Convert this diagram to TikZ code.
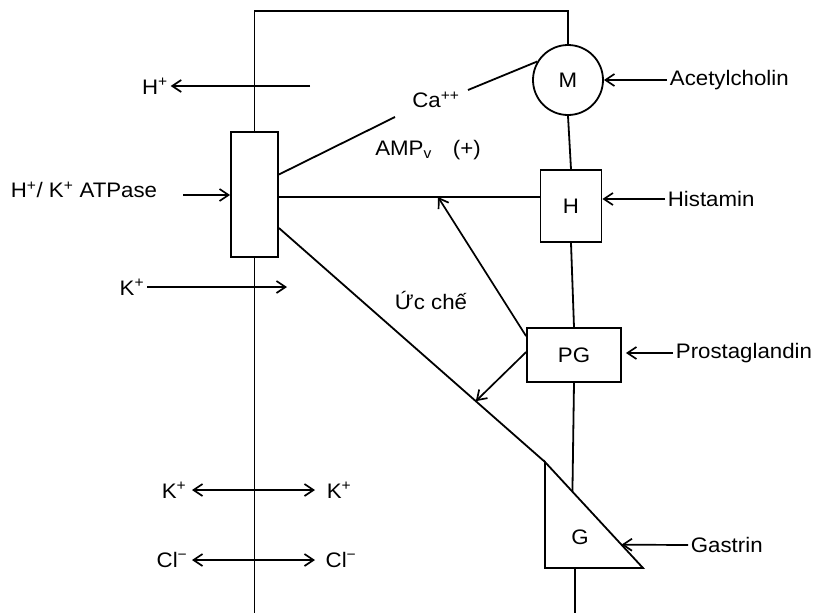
\documentclass[tikz,border=0pt]{standalone}
\usepackage{fontspec}
\setmainfont{Liberation Sans}[FakeStretch=1.06]
\usetikzlibrary{arrows.meta,calc}
\begin{document}
\begin{tikzpicture}[x=1pt,y=-1pt, line width=1.8pt,
  lbl/.style={font=\fontsize{21}{25}\selectfont, inner sep=2pt},
  box/.style={draw, rectangle, inner sep=0pt},
  arr/.style={line width=1.7pt, -{Straight Barb[length=9pt,width=12pt]}},
  darr/.style={line width=1.7pt, {Straight Barb[length=9pt,width=12pt]}-{Straight Barb[length=9pt,width=12pt]}}
]
\useasboundingbox (0,0) rectangle (815,613);

% shapes
\node[box, minimum width=47pt, minimum height=125pt] (ATP) at (254.5,194.5) {};
\node[lbl, draw, circle, inner sep=0pt, minimum size=70pt] (M) at (568,80) {M};
\node[lbl, box, minimum width=61pt, minimum height=72pt] (H) at (571,206) {H};
\node[lbl, box, minimum width=94pt, minimum height=54pt] (PG) at (574,355) {PG};
\coordinate (Gtl) at (545,462);
\coordinate (Gbl) at (545,568);
\coordinate (Gbr) at (643,568);
\draw (Gtl) -- (Gbl) -- (Gbr) -- cycle;
\node[lbl] (G) at (580,537) {G};

% labels
\node[lbl, anchor=west] (acet) at (667,80) {Acetylcholin};
\node[lbl, anchor=west] (hist) at (665,199) {Histamin};
\node[lbl, anchor=west] (pros) at (673,353) {Prostaglandin};
\node[lbl, anchor=west] (gas) at (688,545) {Gastrin};
\node[lbl] (hplus) at (155,86) {H\textsuperscript{+}};
\node[lbl, anchor=east] (atpl) at (160,190) {H\textsuperscript{+}/ K\textsuperscript{+} ATPase};
\node[lbl, anchor=east] (kin) at (147,287) {K\textsuperscript{+}};
\node[lbl] (ca) at (436,100) {Ca\textsuperscript{++}};
\node[lbl] (amp) at (428,150) {AMP\textsubscript{v}\quad(+)};
\node[lbl] (uc) at (431,300) {Ức chế};
\node[lbl] (kl) at (174,490) {K\textsuperscript{+}};
\node[lbl] (kr) at (339,490) {K\textsuperscript{+}};
\node[lbl] (cll) at (172,560) {Cl\textsuperscript{−}};
\node[lbl] (clr) at (341,560) {Cl\textsuperscript{−}};

% coordinates
\coordinate (tl) at (254.5,11);
\coordinate (tr) at (568,11);
\coordinate (bl) at (254.5,613);
\coordinate (gm) at ($(Gtl)!0.28!(Gbr)$);
\coordinate (gb) at (575,568);
\coordinate (bb) at (575,613);
\coordinate (hl) at ([yshift=-2.5pt]ATP.east);
\coordinate (dg) at ([yshift=-33.5pt]ATP.east);
\coordinate (ca1) at (468,90);
\coordinate (ca2) at (395,117);
\coordinate (ca3) at ([yshift=20pt]ATP.east);
\coordinate (h1) at (310,86);
\coordinate (a1) at (183,195);
\coordinate (k1) at (287,287);
\coordinate (k2l) at (192,490);
\coordinate (k2r) at (315,490);
\coordinate (c2l) at (192,560);
\coordinate (c2r) at (315,560);
\coordinate (p1) at ([yshift=-9pt]PG.north west);
\coordinate (p2) at (hl -| 438,0);
\coordinate (p3) at ([yshift=-25pt]PG.north west);
\coordinate (p4) at ($(dg)!0.74!(Gtl)$);
\coordinate (gtip) at ($(Gtl)!0.78!(Gbr)$);
\coordinate (prtip) at ([xshift=4pt]PG.east);

% connectors
\draw (ATP.north) -- (tl) -- (tr) -- (M.north);
\draw (ATP.south) -- (bl);
\draw (M.south) -- (H.north);
\draw (H.south) -- (PG.north);
\draw (PG.south) -- (gm);
\draw (gb) -- (bb);
\draw (hl) -- (hl -| H.west);
\draw (dg) -- (Gtl);
\draw (M.149) -- (ca1);
\draw (ca2) -- (ca3);

% arrows
\draw[arr] (acet.west) -- (M.east);
\draw[arr] (hist.west) -- (hist.west -| H.east);
\draw[arr] (pros.west) -- (pros.west -| prtip);
\draw[arr] (gas.west) -- (gtip);
\draw[arr] (h1) -- (hplus.east);
\draw[arr] (a1) -- (a1 -| ATP.west);
\draw[arr] (kin.east) -- (k1);
\draw[darr] (k2l) -- (k2r);
\draw[darr] (c2l) -- (c2r);
\draw[arr] (p1) -- (p2);
\draw[arr] (p3) -- (p4);
\end{tikzpicture}
\end{document}
